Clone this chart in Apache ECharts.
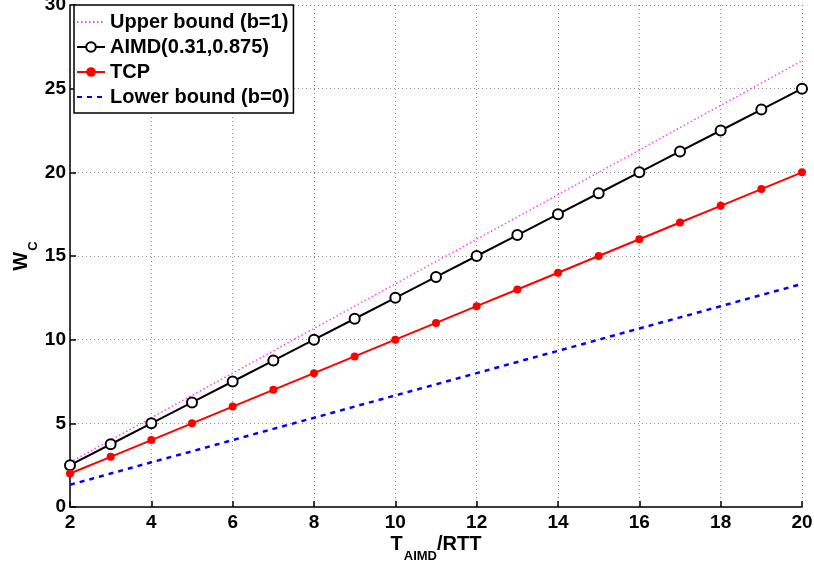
<!DOCTYPE html>
<html>
<head>
<meta charset="utf-8">
<script src="https://cdn.jsdelivr.net/npm/echarts@6/dist/echarts.min.js"></script>
<style>html,body{margin:0;padding:0;background:#fff;}#c{width:814px;height:565px;}</style>
</head>
<body>
<div id="c"></div>
<script>
var xValues = [2,3,4,5,6,7,8,9,10,11,12,13,14,15,16,17,18,19,20];
var upperBound = [2.67,4,5.33,6.67,8,9.33,10.67,12,13.33,14.67,16,17.33,18.67,20,21.33,22.67,24,25.33,26.67];
var aimd = [2.5,3.75,5,6.25,7.5,8.75,10,11.25,12.5,13.75,15,16.25,17.5,18.75,20,21.25,22.5,23.75,25];
var tcp = [2,3,4,5,6,7,8,9,10,11,12,13,14,15,16,17,18,19,20];
var lowerBound = [1.33,2,2.67,3.33,4,4.67,5.33,6,6.67,7.33,8,8.67,9.33,10,10.67,11.33,12,12.67,13.33];
var seriesNames = ['Upper bound (b=1)','AIMD(0.31,0.875)','TCP','Lower bound (b=0)'];

function pairs(ys){ return xValues.map(function(x,i){ return [x, ys[i]]; }); }

var font = 'Liberation Sans, Arial, Helvetica, sans-serif';
var hidden = {color: 'rgba(0,0,0,0)', borderWidth: 0, opacity: 0};
var nameRich = {
  m: {fontFamily: font, fontWeight: 'bold', fontSize: 20, color: '#000', verticalAlign: 'top', lineHeight: 20},
  s: {fontFamily: font, fontWeight: 'bold', fontSize: 13, color: '#000', verticalAlign: 'top', lineHeight: 13, padding: [16,0,0,1]}
};
var chart = echarts.init(document.getElementById('c'), null, {renderer:'canvas'});
chart.setOption({
  animation: false,
  backgroundColor: '#fff',
  grid: {left: 70, right: 12, top: 5, bottom: 58, containLabel: false, outerBoundsMode: 'none'},
  legend: {
    orient: 'vertical', left: 74, top: 5,
    backgroundColor: '#fff', borderColor: '#000', borderWidth: 1.5,
    padding: [7, 4, 6, 2], itemGap: 5, itemWidth: 28, itemHeight: 12,
    textStyle: {fontFamily: font, fontWeight: 'bold', fontSize: 20, color: '#000'},
    data: [
      {name: seriesNames[0], itemStyle: hidden},
      {name: seriesNames[1]},
      {name: seriesNames[2]},
      {name: seriesNames[3], itemStyle: hidden}
    ]
  },
  xAxis: {
    type: 'value', min: 2, max: 20, interval: 2,
    axisLine: {show: true, onZero: false, lineStyle: {color: '#000', width: 1.5}},
    axisTick: {inside: true, length: 6, lineStyle: {color: '#000', width: 1.5}},
    axisLabel: {fontFamily: font, fontWeight: 'bold', fontSize: 19, color: '#000', margin: 6},
    splitLine: {show: true, lineStyle: {type: [1, 3], color: '#888', width: 1}},
    name: '{m|T}{s|AIMD}{m|/RTT}', nameLocation: 'middle', nameGap: 27, nameMoveOverlap: false,
    nameTextStyle: {rich: nameRich}
  },
  yAxis: {
    type: 'value', min: 0, max: 30, interval: 5,
    axisLine: {show: true, onZero: false, lineStyle: {color: '#000', width: 1.5}},
    axisTick: {show: true, inside: true, length: 6, lineStyle: {color: '#000', width: 1.5}},
    axisLabel: {fontFamily: font, fontWeight: 'bold', fontSize: 19, color: '#000', margin: 4},
    splitLine: {show: true, lineStyle: {type: [1, 3], color: '#888', width: 1}},
    name: '{m|W}{s|C}', nameLocation: 'middle', nameGap: 39, nameRotate: 90, nameMoveOverlap: false,
    nameTextStyle: {rich: nameRich}
  },
  series: [
    {name: seriesNames[0], type: 'line', data: pairs(upperBound), showSymbol: false, symbol: 'none',
     lineStyle: {color: '#ff40ff', width: 1.5, type: [1.5, 2.5]}, itemStyle: {color: '#ff40ff'}, z: 2},
    {name: seriesNames[1], type: 'line', data: pairs(aimd), symbol: 'emptyCircle', symbolSize: 10,
     lineStyle: {color: '#000', width: 2}, itemStyle: {color: '#000', borderWidth: 2}, z: 3},
    {name: seriesNames[2], type: 'line', data: pairs(tcp), symbol: 'circle', symbolSize: 8,
     lineStyle: {color: '#ff0000', width: 2}, itemStyle: {color: '#ff0000'}, z: 3},
    {name: seriesNames[3], type: 'line', data: pairs(lowerBound), symbol: 'none',
     lineStyle: {color: '#0000ff', width: 2.5, type: [5, 5]}, itemStyle: {color: '#0000ff'}, z: 2}
  ]
});
</script>
</body>
</html>
